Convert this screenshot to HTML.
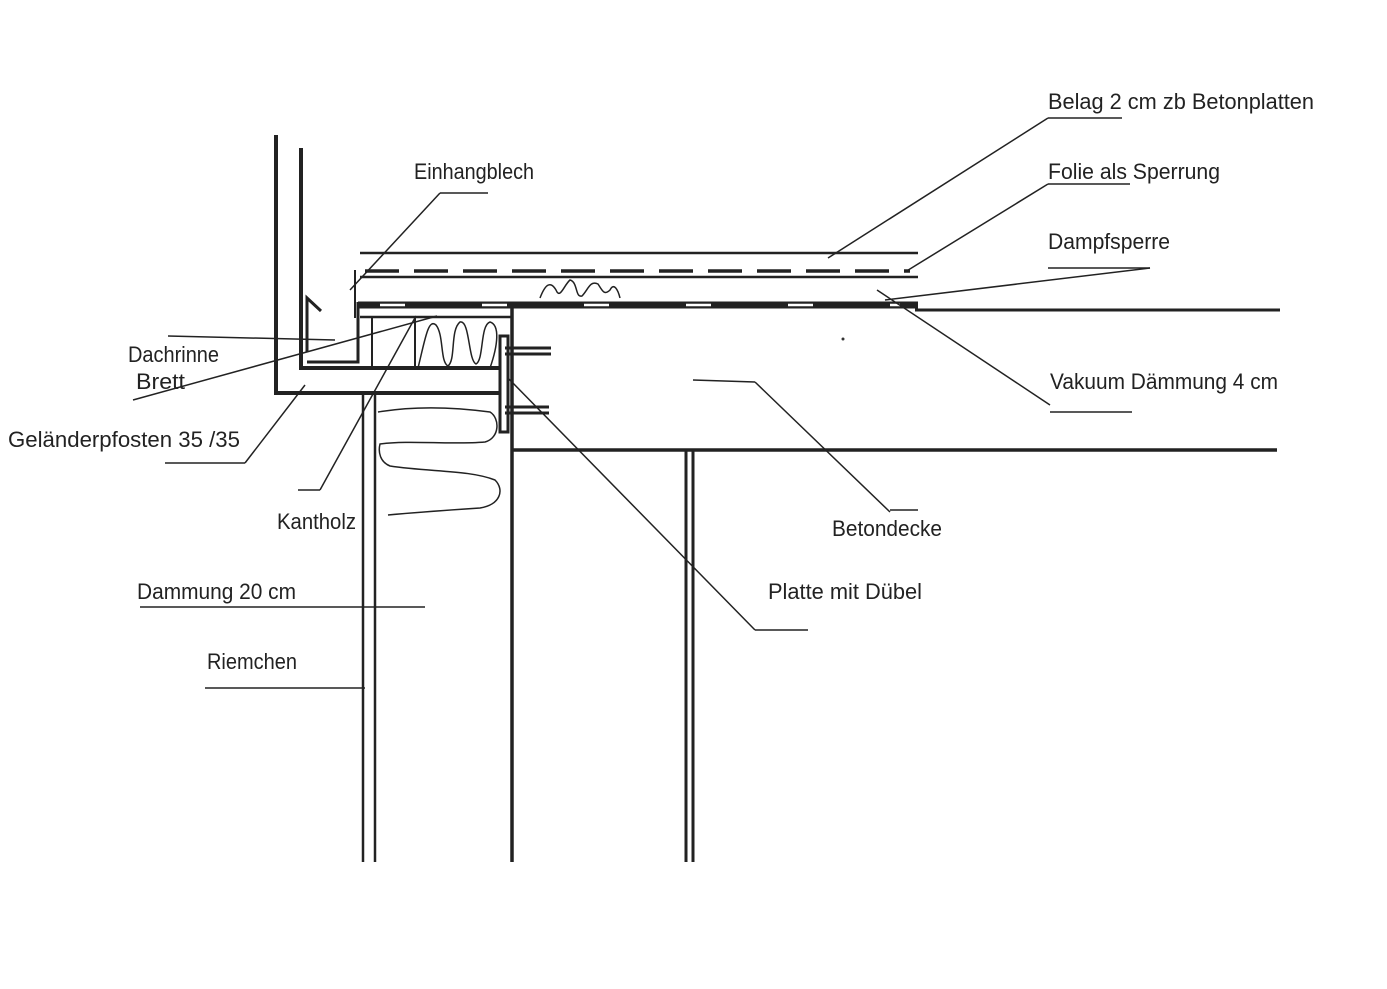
<!DOCTYPE html>
<html><head><meta charset="utf-8"><style>
html,body{margin:0;padding:0;background:#fff;}
svg{display:block;}
text{font-family:"Liberation Sans",sans-serif;font-size:22px;fill:#222;}
</style></head><body>
<svg width="1387" height="989" viewBox="0 0 1387 989" xmlns="http://www.w3.org/2000/svg">
<g stroke="#222" fill="none" stroke-linecap="butt">
<!-- gutter / railing -->
<polyline points="276,135 276,393 500,393" stroke-width="4"/>
<polyline points="301,148 301,368 500,368" stroke-width="4"/>
<polyline points="307,352 307,298 321,311" stroke-width="3"/>
<polyline points="307,362 358,362 358,302" stroke-width="3"/>
<!-- plate -->
<rect x="500" y="336" width="8" height="96" stroke-width="3"/>
<!-- dowels -->
<line x1="505" y1="348" x2="551" y2="348" stroke-width="3"/>
<line x1="505" y1="354" x2="551" y2="354" stroke-width="3"/>
<line x1="505" y1="407" x2="549" y2="407" stroke-width="3"/>
<line x1="505" y1="413" x2="549" y2="413" stroke-width="3"/>
<!-- Einhangblech -->
<line x1="355" y1="270" x2="355" y2="318" stroke-width="2"/>
<!-- top layers -->
<line x1="360" y1="253" x2="918" y2="253" stroke-width="2.5"/>
<line x1="365" y1="271" x2="910" y2="271" stroke-width="3.5" stroke-dasharray="34,15"/>
<line x1="360" y1="277" x2="918" y2="277" stroke-width="2.5"/>
<line x1="358" y1="305" x2="918" y2="305" stroke-width="7"/>
<line x1="380" y1="305" x2="900" y2="305" stroke="#fff" stroke-width="2.5" stroke-dasharray="25,77"/>
<line x1="915" y1="310" x2="1280" y2="310" stroke-width="3"/>
<line x1="360" y1="317" x2="512" y2="317" stroke-width="2.5"/>
<!-- kantholz -->
<line x1="372" y1="318" x2="372" y2="368" stroke-width="2"/>
<line x1="415" y1="318" x2="415" y2="368" stroke-width="2"/>
<!-- walls -->
<line x1="512" y1="308" x2="512" y2="862" stroke-width="3.5"/>
<line x1="512" y1="450" x2="1277" y2="450" stroke-width="3.5"/>
<line x1="686" y1="450" x2="686" y2="862" stroke-width="3"/>
<line x1="693" y1="450" x2="693" y2="862" stroke-width="3"/>
<line x1="363" y1="395" x2="363" y2="862" stroke-width="2.5"/>
<line x1="375" y1="395" x2="375" y2="862" stroke-width="2.5"/>
<!-- insulation scribbles -->
<path d="M418,368 C425,340 428,318 436,325 C444,335 440,362 448,366 C456,360 450,330 460,322 C470,320 468,360 476,364 C484,360 480,325 490,322 C500,325 498,345 490,368" stroke-width="1.5"/>
<path d="M540,298 C545,285 550,280 556,290 C560,300 564,285 570,280 C578,282 575,298 582,296 C588,290 590,280 598,284 C602,290 604,296 610,290 C614,282 618,290 620,298" stroke-width="1.5"/>
<path d="M378,412 C420,405 460,408 490,412 C500,418 500,438 485,442 C450,445 410,440 380,444 C378,452 380,462 390,466 C430,472 470,470 495,480 C505,490 500,505 480,508 C450,510 420,512 388,515" stroke-width="1.5"/>
<!-- leaders -->
<g stroke-width="1.5">
<line x1="1048" y1="118" x2="1122" y2="118"/><line x1="1048" y1="118" x2="828" y2="258"/>
<line x1="1048" y1="184" x2="1130" y2="184"/><line x1="1048" y1="184" x2="905" y2="272"/>
<line x1="1048" y1="268" x2="1150" y2="268"/><line x1="1150" y1="268" x2="885" y2="300"/>
<line x1="1050" y1="412" x2="1132" y2="412"/><line x1="1050" y1="405" x2="877" y2="290"/>
<line x1="440" y1="193" x2="488" y2="193"/><line x1="440" y1="193" x2="350" y2="290"/>
<line x1="168" y1="336" x2="335" y2="340"/>
<line x1="133" y1="400" x2="437" y2="316"/>
<line x1="165" y1="463" x2="245" y2="463"/><line x1="245" y1="463" x2="305" y2="385"/>
<line x1="298" y1="490" x2="320" y2="490"/><line x1="320" y1="490" x2="416" y2="316"/>
<line x1="890" y1="510" x2="918" y2="510"/><line x1="890" y1="512" x2="755" y2="382"/><line x1="693" y1="380" x2="755" y2="382"/>
<line x1="755" y1="630" x2="808" y2="630"/><line x1="755" y1="630" x2="508" y2="378"/>
<line x1="140" y1="607" x2="425" y2="607"/>
<line x1="205" y1="688" x2="365" y2="688"/>
</g>
</g>
<circle cx="843" cy="339" r="1.5" fill="#333"/>
<text x="1048" y="109" textLength="266" lengthAdjust="spacingAndGlyphs">Belag 2 cm zb Betonplatten</text>
<text x="1048" y="179" textLength="172" lengthAdjust="spacingAndGlyphs">Folie als Sperrung</text>
<text x="1048" y="249" textLength="122" lengthAdjust="spacingAndGlyphs">Dampfsperre</text>
<text x="1050" y="389" textLength="228" lengthAdjust="spacingAndGlyphs">Vakuum Dämmung 4 cm</text>
<text x="414" y="179" textLength="120" lengthAdjust="spacingAndGlyphs">Einhangblech</text>
<text x="128" y="362" textLength="91" lengthAdjust="spacingAndGlyphs">Dachrinne</text>
<text x="136" y="389" textLength="49" lengthAdjust="spacingAndGlyphs">Brett</text>
<text x="8" y="447" textLength="232" lengthAdjust="spacingAndGlyphs">Geländerpfosten 35 /35</text>
<text x="277" y="529" textLength="79" lengthAdjust="spacingAndGlyphs">Kantholz</text>
<text x="832" y="536" textLength="110" lengthAdjust="spacingAndGlyphs">Betondecke</text>
<text x="768" y="599" textLength="154" lengthAdjust="spacingAndGlyphs">Platte mit Dübel</text>
<text x="137" y="599" textLength="159" lengthAdjust="spacingAndGlyphs">Dammung 20 cm</text>
<text x="207" y="669" textLength="90" lengthAdjust="spacingAndGlyphs">Riemchen</text>
</svg>
</body></html>
